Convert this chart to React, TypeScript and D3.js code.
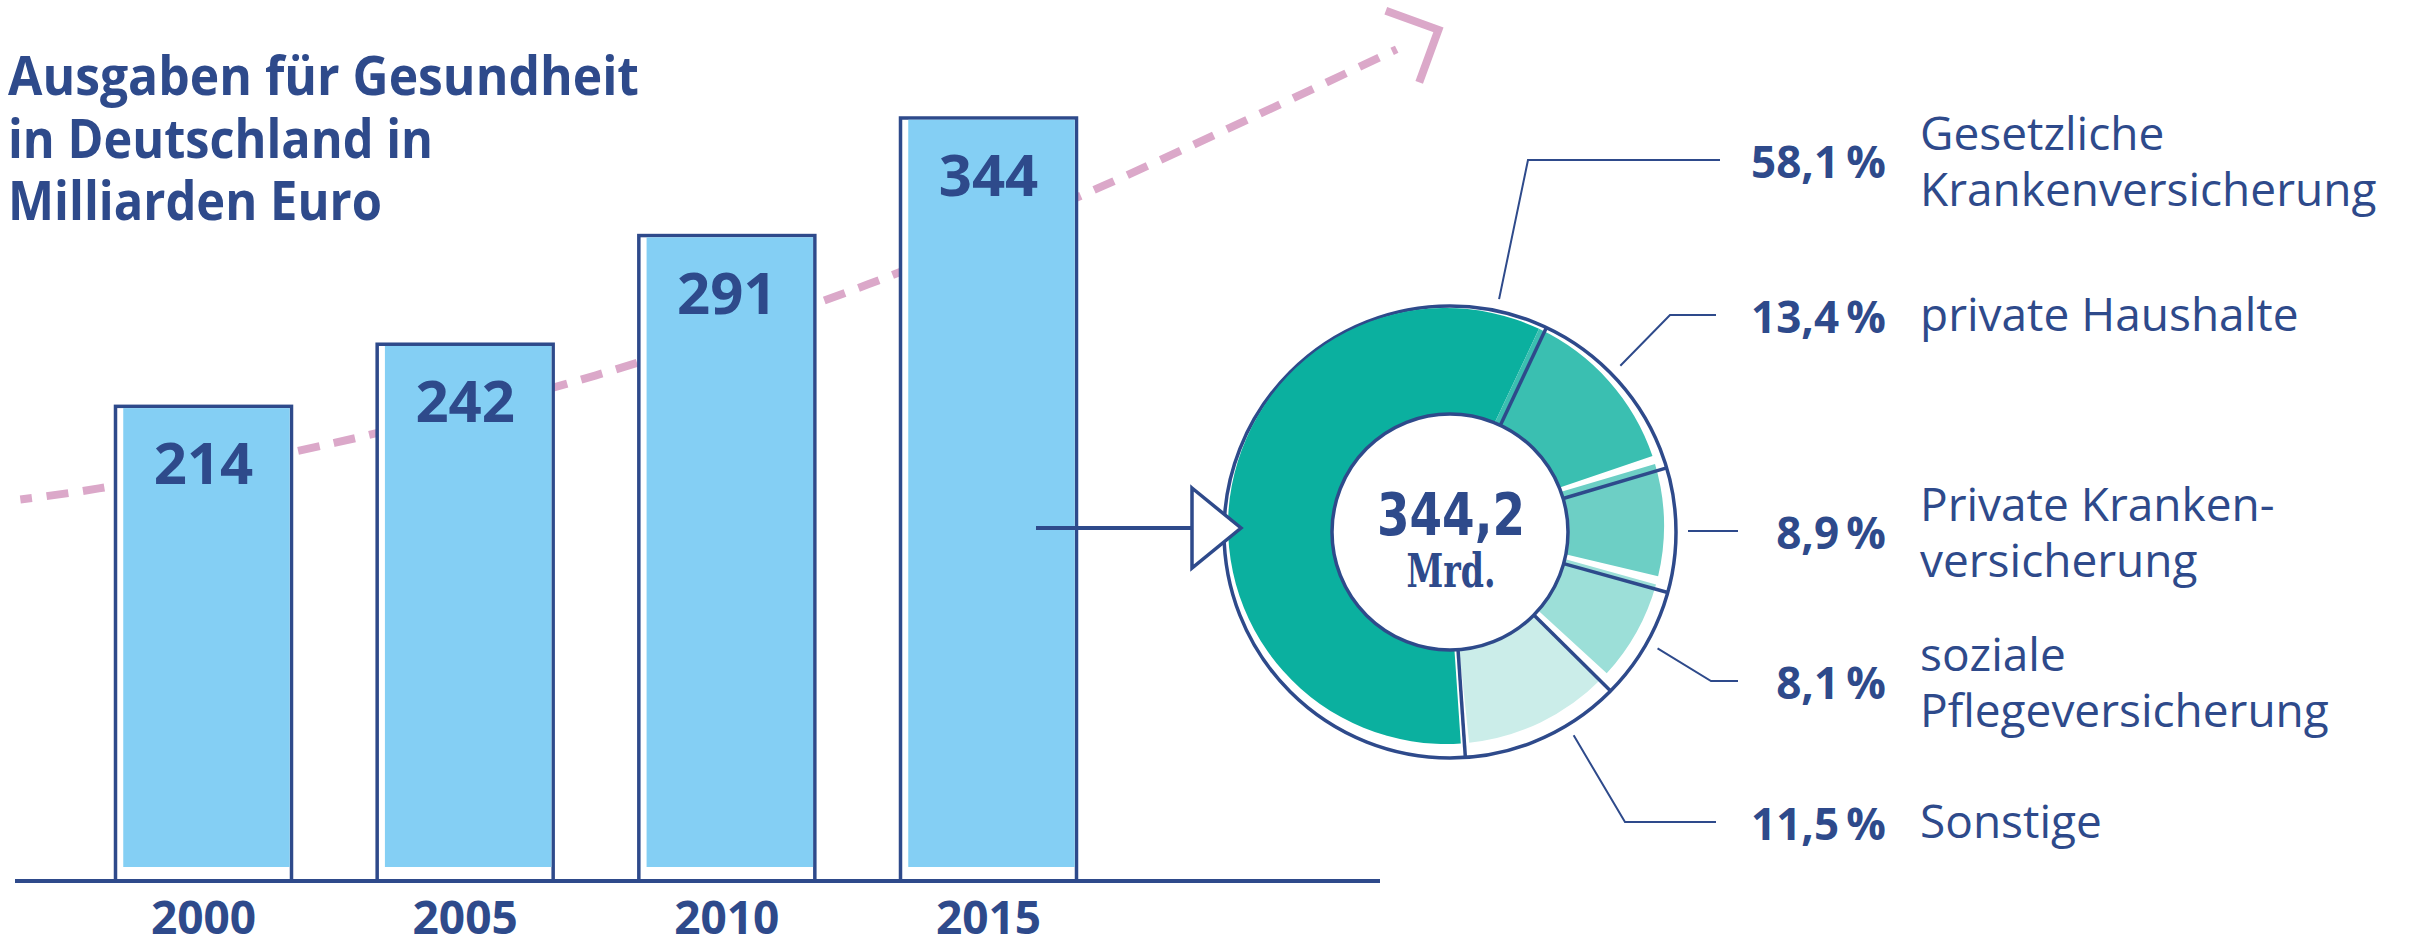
import * as d3 from "d3";

const years = [2000, 2005, 2010, 2015];
const spending = [214, 242, 291, 344];

const shareValues = [58.1, 13.4, 8.9, 8.1, 11.5];
const shareNames = [
  ["Gesetzliche", "Krankenversicherung"],
  ["private Haushalte"],
  ["Private Kranken-", "versicherung"],
  ["soziale", "Pflegeversicherung"],
  ["Sonstige"],
];
const shareColors = ["#0bb09f", "#3abfb1", "#6dcfc5", "#9cdfd8", "#cbede9"];
const totalLabel = "344,2";

// rough trend drawn behind the bars (year, billion euro)
const trendYears = [1996.5, 1998, 2002.5, 2007.5, 2012.7, 2017.2, 2022.8];
const trendValues = [172, 177, 197.5, 228, 269, 313.5, 375];

const titleLines = ["Ausgaben für Gesundheit", "in Deutschland in", "Milliarden Euro"];
const titleWidths = [631, 425, 374];

const dark = "#2e4a8b";
const barBlue = "#84cff4";
const pink = "#dba8c9";
const font = "'Open Sans', 'Noto Sans', sans-serif";

const W = 2414;
const H = 942;
const baseY = 881;

// donut layout
const cx = 1450;
const cy = 532;
const rOuter = 226;
const rInner = 118;
const leaderAngles = [11.9, 45.7, 90, 119.3, 148.7];
const labelRows = [178, 333, 549, 699, 840];
const elbowX = [1528, 1670, null, 1711, 1625];
const leaderEnd = [1720, 1716, 1738, 1738, 1716];
const rad = (deg: number) => (deg * Math.PI) / 180;

export default function App() {
  const xYear = d3.scaleLinear().domain([2000, 2015]).range([203.5, 988.5]);
  const y = d3.scaleLinear().domain([0, 344]).range([baseY, 118]);
  const barW = 176;

  const trendPts: [number, number][] = trendYears.map((t, i) => [xYear(t), y(trendValues[i])]);
  const trendPath = d3.line().curve(d3.curveCatmullRom)(trendPts) || "";
  const [ax, ay] = trendPts[trendPts.length - 2];
  const [bx, by] = trendPts[trendPts.length - 1];
  const len = Math.hypot(bx - ax, by - ay);
  const ux = (bx - ax) / len;
  const uy = (by - ay) / len;
  const tipX = bx + ux * 46;
  const tipY = by + uy * 46;
  const back = Math.atan2(-uy, -ux);
  const arm = 56;
  const chevron = [
    [tipX + Math.cos(back - Math.PI / 4) * arm, tipY + Math.sin(back - Math.PI / 4) * arm],
    [tipX, tipY],
    [tipX + Math.cos(back + Math.PI / 4) * arm, tipY + Math.sin(back + Math.PI / 4) * arm],
  ];

  const start = rad(176.1);
  const pie = d3
    .pie<number>()
    .sort(null)
    .value((d) => d)
    .startAngle(start)
    .endAngle(start + Math.PI * 2);
  const slices = pie(shareValues);
  const fillArc = d3.arc<any>().innerRadius(100).outerRadius(218);

  const pt = (deg: number, r: number) => [cx + r * Math.sin(rad(deg)), cy - r * Math.cos(rad(deg))];

  return (
    <svg
      width={W}
      height={H}
      viewBox={`0 0 ${W} ${H}`}
      style={{ position: "absolute", left: 0, top: 0, display: "block", background: "#fff" }}
    >
      {/* title */}
      {titleLines.map((t, i) => (
        <text
          key={t}
          x={8}
          y={95 + i * 62.5}
          fontFamily={font}
          fontWeight="700"
          fontSize={53}
          fill={dark}
          textLength={titleWidths[i]}
          lengthAdjust="spacingAndGlyphs"
        >
          {t}
        </text>
      ))}

      {/* trend */}
      <path d={trendPath} fill="none" stroke={pink} strokeWidth={8} strokeDasharray="22 14.5" strokeDashoffset={10} />
      <polyline points={chevron.map((p) => p.join(",")).join(" ")} fill="none" stroke={pink} strokeWidth={8} />

      {/* bars */}
      {years.map((yr, i) => {
        const x0 = xYear(yr) - barW / 2;
        const top = y(spending[i]);
        return (
          <g key={yr}>
            <rect x={x0} y={top} width={barW} height={baseY - top} fill="#fff" stroke={dark} strokeWidth={3.5} />
            <rect
              x={x0 + 1.75 + 6}
              y={top + 1.75}
              width={barW - 3.5 - 6}
              height={baseY - 14 - top - 1.75}
              fill={barBlue}
            />
            <text
              x={xYear(yr)}
              y={top + 78}
              textAnchor="middle"
              fontFamily={font}
              fontWeight="700"
              fontSize={58}
              fill={dark}
            >
              {spending[i]}
            </text>
            <text
              x={xYear(yr)}
              y={934}
              textAnchor="middle"
              fontFamily={font}
              fontWeight="700"
              fontSize={46}
              fill={dark}
            >
              {yr}
            </text>
          </g>
        );
      })}
      <line x1={15} x2={1380} y1={baseY} y2={baseY} stroke={dark} strokeWidth={4} />

      {/* arrow to donut */}
      <line x1={1036} x2={1192} y1={cy - 4} y2={cy - 4} stroke={dark} strokeWidth={4} />

      {/* donut */}
      <circle cx={cx} cy={cy} r={rOuter} fill="#fff" stroke={dark} strokeWidth={3.5} />
      <g transform={`translate(${cx - 4},${cy - 6})`}>
        {slices.map((s, i) => (
          <path
            key={i}
            d={fillArc({ ...s, endAngle: i === 0 ? s.endAngle : s.endAngle - rad(2.2) }) || ""}
            fill={shareColors[i]}
          />
        ))}
      </g>
      {slices.map((s, i) => {
        const a = (s.startAngle * 180) / Math.PI;
        const [x1, y1] = pt(a, rInner);
        const [x2, y2] = pt(a, rOuter);
        return <line key={i} x1={x1} y1={y1} x2={x2} y2={y2} stroke={dark} strokeWidth={3.5} />;
      })}
      <circle cx={cx} cy={cy} r={rInner} fill="#fff" stroke={dark} strokeWidth={3.5} />
      <polygon
        points={`1192,${cy - 44} 1241,${cy - 4} 1192,${cy + 36}`}
        fill="#fff"
        stroke={dark}
        strokeWidth={3.5}
      />
      <text
        x={cx + 1}
        y={535}
        textAnchor="middle"
        fontFamily="'DejaVu Sans Condensed', 'DejaVu Sans', sans-serif"
        fontWeight="700"
        fontSize={59}
        fill={dark}
        textLength={148}
        lengthAdjust="spacingAndGlyphs"
      >
        {totalLabel}
      </text>
      <text
        x={cx + 1}
        y={587}
        textAnchor="middle"
        fontFamily="'DejaVu Serif Condensed', 'DejaVu Serif', serif"
        fontWeight="700"
        fontSize={46}
        fill={dark}
        textLength={89}
        lengthAdjust="spacingAndGlyphs"
      >
        Mrd.
      </text>

      {/* leaders and labels */}
      {shareValues.map((v, i) => {
        const [sx, sy] = pt(leaderAngles[i], 238);
        const ly = labelRows[i] - 18;
        const pts = elbowX[i] === null ? [[sx, ly], [leaderEnd[i], ly]] : [[sx, sy], [elbowX[i], ly], [leaderEnd[i], ly]];
        const names = shareNames[i];
        return (
          <g key={i}>
            <polyline points={pts.map((p) => p.join(",")).join(" ")} fill="none" stroke={dark} strokeWidth={2} />
            <text
              x={1886}
              y={labelRows[i]}
              textAnchor="end"
              fontFamily={font}
              fontWeight="700"
              fontSize={44}
              fill={dark}
            >
              {d3.format(".1f")(v).replace(".", ",") + "\u2009%"}
            </text>
            {names.map((n, j) => (
              <text
                key={n}
                x={1920}
                y={names.length === 1 ? labelRows[i] - 2 : labelRows[i] - 28 + j * 56}
                fontFamily={font}
                fontSize={46}
                fill={dark}
              >
                {n}
              </text>
            ))}
          </g>
        );
      })}
    </svg>
  );
}
